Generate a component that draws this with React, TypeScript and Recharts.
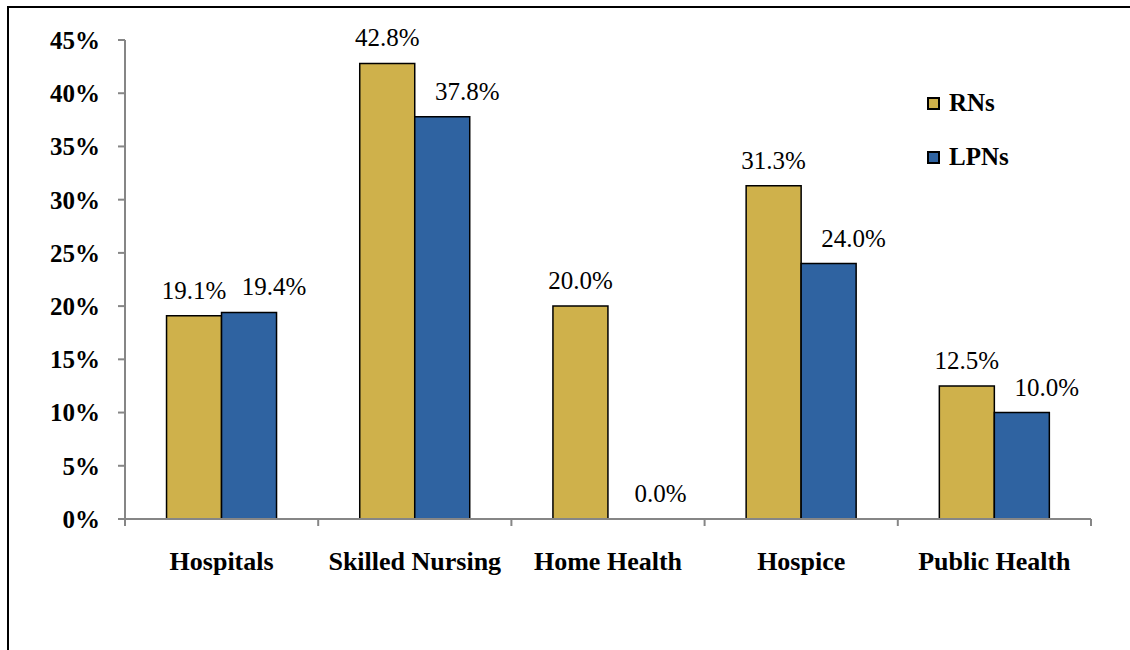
import { BarChart, Bar, XAxis, YAxis, Legend, LabelList, Rectangle } from 'recharts'

const settings = ['Hospitals', 'Skilled Nursing', 'Home Health', 'Hospice', 'Public Health']
const rnShare = [19.1, 42.8, 20.0, 31.3, 12.5]
const lpnShare = [19.4, 37.8, 0.0, 24.0, 10.0]
const pctTicks = [0, 5, 10, 15, 20, 25, 30, 35, 40, 45]
const seriesOrder = ['RNs', 'LPNs']

const SERIF = '"Liberation Serif", "Times New Roman", serif'
const GOLD = '#CFB14B'
const BLUE = '#2F63A1'
const AXIS = '#868686'
const CAT_MARGIN = 33

const rows = settings.map((name, i) => ({ name, rn: rnShare[i], lpn: lpnShare[i] }))

const pct = (v: any) => `${Number(v).toFixed(1)}%`

// category label plus tick marks on the band edges instead of the band centre
function CategoryTick(props: any) {
  const { x, y, payload, index, visibleTicksCount } = props
  const half = payload.offset || 0
  const top = y - CAT_MARGIN
  return (
    <g>
      <line x1={x - half} x2={x - half} y1={top} y2={top + 7} stroke={AXIS} strokeWidth={2} />
      {index === visibleTicksCount - 1 && (
        <line x1={x + half} x2={x + half} y1={top} y2={top + 7} stroke={AXIS} strokeWidth={2} />
      )}
      <text x={x} y={y} dy="0.71em" textAnchor="middle" fill="#000" fontSize={26} fontWeight="bold" fontFamily={SERIF}>
        {payload.value}
      </text>
    </g>
  )
}

// zero values keep a sliver so their label is still placed; the sliver itself is not drawn
function BarShape(props: any) {
  if (Math.abs(props.height) < 0.5) return <g />
  return <Rectangle {...props} />
}

function LegendBox({ payload }: any) {
  const items = [...(payload || [])].sort((a: any, b: any) => seriesOrder.indexOf(a.value) - seriesOrder.indexOf(b.value))
  return (
    <div style={{ fontFamily: SERIF }}>
      {items.map((p: any) => (
        <div key={p.value} style={{ display: 'flex', alignItems: 'center', height: 54 }}>
          <span style={{ width: 13, height: 13, boxSizing: 'border-box', background: p.color, border: '2px solid #000' }} />
          <span style={{ marginLeft: 9, fontSize: 25, fontWeight: 'bold', color: '#000' }}>{p.value}</span>
        </div>
      ))}
    </div>
  )
}

export default function App() {
  return (
    <div style={{ position: 'absolute', left: 0, top: 0, width: 1130, height: 650, overflow: 'hidden', background: '#fff' }}>
      {/* open frame: top and left edges only */}
      <div style={{ position: 'absolute', left: 7, top: 6, width: 1123, height: 644, borderTop: '2px solid #000', borderLeft: '2px solid #000', boxSizing: 'border-box' }} />
      <div style={{ position: 'absolute', left: 0, top: 0 }}>
        <BarChart width={1130} height={650} data={rows} margin={{ top: 40, right: 39, bottom: 81, left: 0 }}
          barCategoryGap="21.5%" barGap={0}>
          <XAxis dataKey="name" height={50} tickSize={0} tickMargin={CAT_MARGIN} tickLine={false}
            axisLine={{ stroke: AXIS, strokeWidth: 2 }} interval={0} tick={<CategoryTick />} />
          <YAxis width={125} domain={[0, 45]} ticks={pctTicks} interval={0} tickFormatter={v => `${v}%`}
            tickSize={7} tickMargin={18} axisLine={{ stroke: AXIS, strokeWidth: 2 }} tickLine={{ stroke: AXIS, strokeWidth: 2 }}
            tick={{ fill: '#000', fontSize: 25, fontWeight: 'bold', fontFamily: SERIF }} />
          <Legend layout="vertical" align="center" verticalAlign="middle" content={<LegendBox />}
            wrapperStyle={{ left: 927, top: 76, width: 120 }} />
          <Bar dataKey="rn" name="RNs" fill={GOLD} stroke="#000" strokeWidth={1.5} isAnimationActive={false}>
            <LabelList dataKey="rn" position="top" offset={17} formatter={pct}
              style={{ fill: '#000', fontSize: 25, fontFamily: SERIF }} />
          </Bar>
          <Bar dataKey="lpn" name="LPNs" fill={BLUE} stroke="#000" strokeWidth={1.5} isAnimationActive={false}
            minPointSize={0.01} shape={<BarShape />}>
            <LabelList dataKey="lpn" position="top" offset={17} dx={25} formatter={pct}
              style={{ fill: '#000', fontSize: 25, fontFamily: SERIF }} />
          </Bar>
        </BarChart>
      </div>
    </div>
  )
}
